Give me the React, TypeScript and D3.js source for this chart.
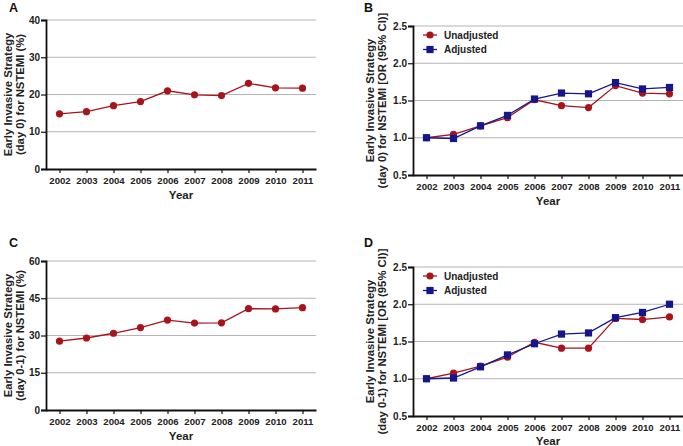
import React, { useEffect, useRef } from "react";
import * as d3 from "d3";

const years = ["2002", "2003", "2004", "2005", "2006", "2007", "2008", "2009", "2010", "2011"];

const panelA = [14.8, 15.4, 17.0, 18.1, 21.0, 19.9, 19.7, 23.0, 21.8, 21.7];
const panelC = [27.7, 29.0, 30.9, 33.2, 36.2, 35.0, 35.1, 40.8, 40.7, 41.2];

const panelBUnadj = [1.0, 1.045, 1.16, 1.27, 1.51, 1.43, 1.405, 1.70, 1.60, 1.59];
const panelBAdj = [1.0, 0.99, 1.16, 1.30, 1.52, 1.60, 1.59, 1.74, 1.655, 1.675];

const panelDUnadj = [1.0, 1.075, 1.17, 1.29, 1.49, 1.41, 1.41, 1.81, 1.795, 1.83];
const panelDAdj = [1.0, 1.01, 1.16, 1.32, 1.47, 1.60, 1.615, 1.82, 1.89, 2.0];

const ticksA = [0, 10, 20, 30, 40];
const ticksC = [0, 15, 30, 45, 60];
const ticksOR = [0.5, 1.0, 1.5, 2.0, 2.5];

const RED = "#a8141c";
const BLUE = "#14168a";
const FONT = "'Liberation Sans', Arial, sans-serif";

type Series = { name: string; values: number[]; color: string; shape: "circle" | "square" };

type Panel = {
  letter: string;
  letterX: number;
  letterY: number;
  left: number;
  right: number;
  top: number;
  bottom: number;
  titleOffset: number;
  domain: [number, number];
  ticks: number[];
  tickFmt: (v: number) => string;
  title: [string, string];
  series: Series[];
  legend: boolean;
};

const panels: Panel[] = [
  {
    letter: "A", letterX: 9, letterY: 12, left: 46, right: 316, top: 20, bottom: 169, titleOffset: 22,
    domain: [0, 40], ticks: ticksA, tickFmt: (v) => String(v),
    title: ["Early Invasive Strategy", "(day 0) for NSTEMI (%)"],
    series: [{ name: "A", values: panelA, color: RED, shape: "circle" }], legend: false,
  },
  {
    letter: "B", letterX: 364, letterY: 12, left: 413, right: 683, top: 26, bottom: 175, titleOffset: 27,
    domain: [0.5, 2.5], ticks: ticksOR, tickFmt: (v) => v.toFixed(1),
    title: ["Early Invasive Strategy", "(day 0) for NSTEMI [OR (95% CI)]"],
    series: [
      { name: "Unadjusted", values: panelBUnadj, color: RED, shape: "circle" },
      { name: "Adjusted", values: panelBAdj, color: BLUE, shape: "square" },
    ], legend: true,
  },
  {
    letter: "C", letterX: 9, letterY: 247, left: 46, right: 316, top: 261, bottom: 410, titleOffset: 22,
    domain: [0, 60], ticks: ticksC, tickFmt: (v) => String(v),
    title: ["Early Invasive Strategy", "(day 0-1) for NSTEMI (%)"],
    series: [{ name: "C", values: panelC, color: RED, shape: "circle" }], legend: false,
  },
  {
    letter: "D", letterX: 364, letterY: 247, left: 413, right: 683, top: 267, bottom: 416, titleOffset: 27,
    domain: [0.5, 2.5], ticks: ticksOR, tickFmt: (v) => v.toFixed(1),
    title: ["Early Invasive Strategy", "(day 0-1) for NSTEMI [OR (95% CI)]"],
    series: [
      { name: "Unadjusted", values: panelDUnadj, color: RED, shape: "circle" },
      { name: "Adjusted", values: panelDAdj, color: BLUE, shape: "square" },
    ], legend: true,
  },
];

function drawMarker(g: any, shape: string, x: number, y: number, color: string) {
  if (shape === "circle") {
    g.append("circle").attr("cx", x).attr("cy", y).attr("r", 3.6).attr("fill", color);
  } else {
    g.append("rect").attr("x", x - 3.6).attr("y", y - 3.6).attr("width", 7.2).attr("height", 7.2).attr("fill", color);
  }
}

export default function App() {
  const ref = useRef<SVGSVGElement>(null);
  useEffect(() => {
    const svg = d3.select(ref.current);
    svg.selectAll("*").remove();
    svg.append("rect").attr("width", 683).attr("height", 446).attr("fill", "#fff");

    panels.forEach((p) => {
      const g = svg.append("g");
      const x = d3.scalePoint<string>().domain(years).range([p.left, p.right]).padding(0.5);
      const y = d3.scaleLinear().domain(p.domain).range([p.bottom, p.top]);

      // gridlines
      p.ticks.slice(1).forEach((t) => {
        g.append("line").attr("x1", p.left).attr("x2", p.right).attr("y1", y(t)).attr("y2", y(t))
          .attr("stroke", "#b4b4b4").attr("stroke-width", 1);
      });

      // y axis
      const yAxis = g.append("g").attr("transform", `translate(${p.left},0)`)
        .call(d3.axisLeft(y).tickValues(p.ticks).tickFormat((d: any) => p.tickFmt(d)).tickSize(5).tickPadding(1));
      yAxis.select(".domain").attr("stroke", "#111").attr("stroke-width", 1.8);
      yAxis.selectAll(".tick line").attr("stroke", "#111").attr("stroke-width", 1.2);
      yAxis.selectAll("text").attr("font-family", FONT).attr("font-weight", "bold").attr("font-size", 10).attr("fill", "#222");

      // x axis
      const xAxis = g.append("g").attr("transform", `translate(0,${p.bottom})`)
        .call(d3.axisBottom(x).tickSize(4).tickPadding(4).tickSizeOuter(0));
      xAxis.select(".domain").attr("stroke", "#111").attr("stroke-width", 1.8);
      xAxis.selectAll(".tick line").attr("stroke", "#111").attr("stroke-width", 1.2);
      xAxis.selectAll("text").attr("font-family", FONT).attr("font-weight", "bold").attr("font-size", 9.6).attr("fill", "#222");

      // series
      p.series.forEach((s) => {
        const line = d3.line<number>().x((_, i) => x(years[i])!).y((v) => y(v));
        g.append("path").attr("d", line(s.values)).attr("fill", "none").attr("stroke", s.color).attr("stroke-width", 1.3);
        s.values.forEach((v, i) => drawMarker(g, s.shape, x(years[i])!, y(v), s.color));
      });

      // legend
      if (p.legend) {
        p.series.forEach((s, i) => {
          const ly = p.top + 9 + i * 14.5;
          const lx = p.left + 10;
          g.append("line").attr("x1", lx).attr("x2", lx + 14).attr("y1", ly).attr("y2", ly)
            .attr("stroke", s.color).attr("stroke-width", 1.3);
          drawMarker(g, s.shape, lx + 7, ly, s.color);
          g.append("text").attr("x", lx + 21).attr("y", ly + 3.6).text(s.name)
            .attr("font-family", FONT).attr("font-weight", "bold").attr("font-size", 10).attr("fill", "#222");
        });
      }

      // panel letter
      g.append("text").attr("x", p.letterX).attr("y", p.letterY).text(p.letter)
        .attr("font-family", FONT).attr("font-weight", "bold").attr("font-size", 12.5).attr("fill", "#111");

      // x title
      g.append("text").attr("x", (p.left + p.right) / 2).attr("y", Math.min(p.bottom + 30, 445)).attr("text-anchor", "middle")
        .text("Year").attr("font-family", FONT).attr("font-weight", "bold").attr("font-size", 11.5).attr("fill", "#222");

      // y title
      const cy = (p.top + p.bottom) / 2;
      const tx = p.left - p.titleOffset;
      const yt = g.append("text").attr("transform", `translate(${tx},${cy}) rotate(-90)`).attr("text-anchor", "middle")
        .attr("font-family", FONT).attr("font-weight", "bold").attr("font-size", 11.3).attr("fill", "#222");
      yt.append("tspan").attr("x", 0).attr("y", -12).text(p.title[0]);
      yt.append("tspan").attr("x", 0).attr("y", 0).text(p.title[1]);
    });
  }, []);
  return (
    <svg ref={ref} width={683} height={446} style={{ position: "absolute", left: 0, top: 0, display: "block" }} />
  );
}
